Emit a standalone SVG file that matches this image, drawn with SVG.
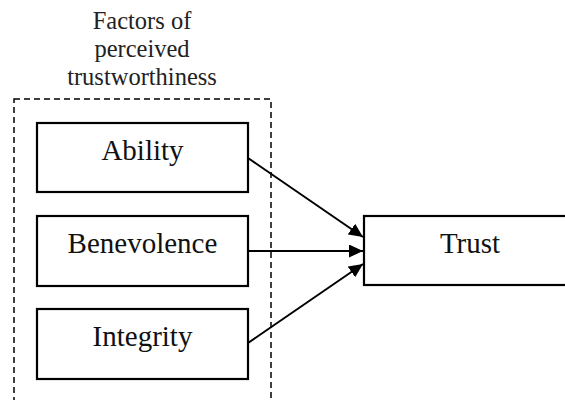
<svg xmlns="http://www.w3.org/2000/svg" width="565" height="400" viewBox="0 0 565 400">
<style>
.box{fill:#fff;stroke:#000;stroke-width:2.2}
.lbl{font-family:"Liberation Serif","Times New Roman",serif;font-size:29px;fill:#111;text-anchor:middle}
.ttl{font-family:"Liberation Serif","Times New Roman",serif;font-size:24.5px;fill:#222;text-anchor:middle}
.conn{stroke:#000;stroke-width:2;fill:none;marker-end:url(#ah)}
</style>
<defs>
<marker id="ah" viewBox="0 0 14 13" refX="14" refY="6.5" markerWidth="14" markerHeight="13" markerUnits="userSpaceOnUse" orient="auto">
<path d="M0,0 L14,6.5 L0,13 Z" fill="#000"/>
</marker>
</defs>
<rect width="565" height="400" fill="#fff"/>
<g id="group">
<text class="ttl" x="142" y="29">Factors of</text>
<text class="ttl" x="142" y="57">perceived</text>
<text class="ttl" x="142" y="85">trustworthiness</text>
</g>
<g id="ability">
<rect class="box" x="37" y="123" width="211" height="69"/>
<text class="lbl" x="142.5" y="160">Ability</text>
</g>
<g id="benevolence">
<rect class="box" x="37" y="216" width="211" height="70"/>
<text class="lbl" x="142.5" y="253">Benevolence</text>
</g>
<g id="integrity">
<rect class="box" x="37" y="309" width="211" height="70"/>
<text class="lbl" x="142.5" y="346">Integrity</text>
</g>
<g id="trust">
<rect class="box" x="364" y="216" width="214" height="69"/>
<text class="lbl" x="470" y="253">Trust</text>
</g>
<g id="connectors">
<line class="conn" x1="248" y1="158" x2="363" y2="237"/>
<line class="conn" x1="248" y1="251" x2="363" y2="251"/>
<line class="conn" x1="248" y1="343" x2="363" y2="264"/>
</g>
<rect id="group-frame" x="14" y="99" width="257" height="320" fill="none" stroke="#000" stroke-width="1.5" stroke-dasharray="6,4"/>
</svg>
